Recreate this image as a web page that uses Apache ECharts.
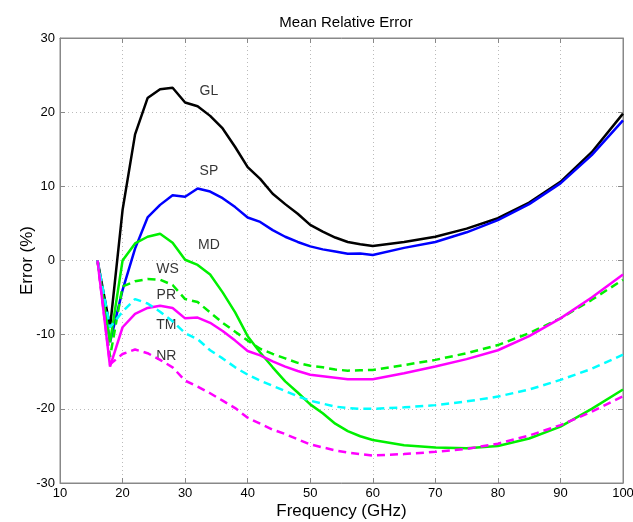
<!DOCTYPE html>
<html>
<head>
<meta charset="utf-8">
<script src="https://cdn.jsdelivr.net/npm/echarts@6/dist/echarts.min.js"></script>
<style>
    html, body { margin: 0; padding: 0; background: #fff; }
    #app { width: 633px; height: 522px; }
</style>
</head>
<body>
<div id="app"></div>
<script>
// 频率 (GHz)
var freq = [16, 18, 20, 22, 24, 26, 28, 30, 32, 34, 36, 38, 40, 42, 44, 46, 48, 50, 52, 54, 56, 58, 60, 65, 70, 75, 80, 85, 90, 95, 100]

// 各方法的平均相对误差 (%)
var GL = [0, -9, 6.8, 17, 21.9, 23.1, 23.3, 21.3, 20.8, 19.5, 17.8, 15.3, 12.6, 11, 9, 7.6, 6.3, 4.8, 3.9, 3.1, 2.5, 2.2, 1.95, 2.5, 3.2, 4.3, 5.7, 7.8, 10.6, 14.6, 19.8]
var SP = [0, -11, -4, 1.6, 5.8, 7.5, 8.8, 8.6, 9.7, 9.3, 8.4, 7.2, 5.8, 5.2, 4.1, 3.2, 2.5, 1.9, 1.5, 1.2, 0.9, 0.95, 0.75, 1.7, 2.5, 3.8, 5.45, 7.6, 10.4, 14.2, 18.9]
var MD = [0, -11, 0, 2.3, 3.2, 3.6, 2.4, 0.1, -0.6, -1.9, -4.3, -7, -10.2, -12.4, -14.4, -16.3, -17.8, -19.4, -20.6, -22, -23, -23.7, -24.2, -24.9, -25.2, -25.3, -25, -24, -22.4, -20, -17.4]
var WS = [0, -13, -3.5, -2.8, -2.5, -2.6, -3.3, -5.2, -5.6, -7, -8.4, -9.6, -10.8, -11.9, -12.6, -13.2, -13.8, -14.2, -14.4, -14.7, -14.85, -14.8, -14.75, -14.1, -13.4, -12.5, -11.4, -9.8, -7.8, -5.3, -2.6]
var PR = [0, -14.3, -9, -7.2, -6.4, -6.1, -6.4, -7.8, -7.7, -8.4, -9.5, -10.8, -12.2, -12.8, -13.6, -14.3, -14.9, -15.4, -15.6, -15.8, -16, -16, -16, -15.2, -14.3, -13.3, -12.1, -10.2, -7.8, -5, -1.9]
var TM = [0, -9, -6.9, -5.2, -5.8, -6.9, -8.2, -9.8, -10.6, -12.1, -13.2, -14.4, -15.4, -16.2, -16.9, -17.6, -18.3, -18.9, -19.3, -19.7, -19.9, -20, -20, -19.8, -19.5, -19, -18.35, -17.4, -16.1, -14.6, -12.7]
var NR = [0, -14, -12.6, -12, -12.5, -13.4, -14.4, -16.2, -17, -17.9, -18.9, -19.9, -21.2, -22, -22.8, -23.4, -24.1, -24.8, -25.2, -25.6, -25.9, -26.1, -26.3, -26.1, -25.8, -25.4, -24.7, -23.6, -22.2, -20.4, -18.3]

// 曲线标注 [名称, 频率, 误差]
var labels = [
    ['GL', 33.8, 22.8],
    ['SP', 33.8, 12.0],
    ['MD', 33.8, 2.1],
    ['WS', 27.2, -1.2],
    ['PR', 27.0, -4.7],
    ['TM', 27.0, -8.7],
    ['NR', 27.0, -12.9]
]

var font = 'Liberation Sans, Arial, sans-serif'

var toPairs = (arr) => freq.map((f, i) => [f, arr[i]])

var makeLine = (name, arr, color, dashed) => ({
    name: name,
    type: 'line',
    data: toPairs(arr),
    symbol: 'none',
    smooth: false,
    animation: false,
    lineStyle: {
        color: color,
        width: 2.5,
        type: dashed ? [8, 5] : 'solid'
    }
})

var chart = echarts.init(document.getElementById('app'))

var gridLine = {
    show: true,
    lineStyle: { color: '#bbb', type: [1, 3], width: 1 }
}

var boxLine = { show: true, onZero: false, lineStyle: { color: '#888' } }
var boxTick = { show: true, inside: true, length: 5, lineStyle: { color: '#888' } }

chart.setOption({
    animation: false,
    title: {
        text: 'Mean Relative Error',
        left: 341,
        top: 10,
        textAlign: 'center',
        textStyle: { fontFamily: font, fontSize: 15, fontWeight: 'normal', color: '#000' }
    },
    grid: {
        left: 60,
        right: 10,
        top: 38,
        bottom: 39,
        outerBoundsMode: 'none',
        containLabel: false,
        show: true,
        borderColor: '#888',
        borderWidth: 1
    },
    xAxis: [
        {
            type: 'value',
            min: 10,
            max: 100,
            interval: 10,
            name: 'Frequency (GHz)',
            nameLocation: 'middle',
            nameGap: 20,
            nameMoveOverlap: false,
            nameTextStyle: { fontFamily: font, fontSize: 17, color: '#000' },
            axisLine: boxLine,
            axisTick: boxTick,
            axisLabel: { fontFamily: font, fontSize: 13, color: '#000', margin: 4 },
            splitLine: gridLine
        },
        {
            type: 'value',
            position: 'top',
            min: 10,
            max: 100,
            interval: 10,
            axisLine: boxLine,
            axisTick: boxTick,
            axisLabel: { show: false },
            splitLine: { show: false }
        }
    ],
    yAxis: [
        {
            type: 'value',
            min: -30,
            max: 30,
            interval: 10,
            name: 'Error (%)',
            nameLocation: 'middle',
            nameGap: 24,
            nameMoveOverlap: false,
            nameTextStyle: { fontFamily: font, fontSize: 17, color: '#000' },
            axisLine: boxLine,
            axisTick: boxTick,
            axisLabel: { fontFamily: font, fontSize: 13, color: '#000', margin: 5 },
            splitLine: gridLine
        },
        {
            type: 'value',
            position: 'right',
            min: -30,
            max: 30,
            interval: 10,
            axisLine: boxLine,
            axisTick: boxTick,
            axisLabel: { show: false },
            splitLine: { show: false }
        }
    ],
    series: [
        makeLine('GL', GL, '#000000', false),
        makeLine('SP', SP, '#0000ff', false),
        makeLine('MD', MD, '#00f000', false),
        makeLine('WS', WS, '#00f000', true),
        makeLine('PR', PR, '#ff00ff', false),
        makeLine('TM', TM, '#00ffff', true),
        makeLine('NR', NR, '#ff00ff', true),
        {
            name: 'labels',
            type: 'scatter',
            symbolSize: 0,
            silent: true,
            data: labels.map((l) => ({ value: [l[1], l[2]], name: l[0] })),
            label: {
                show: true,
                position: 'inside',
                formatter: (p) => p.name,
                fontFamily: font,
                fontSize: 14,
                color: '#000'
            }
        }
    ]
})
</script>
</body>
</html>
